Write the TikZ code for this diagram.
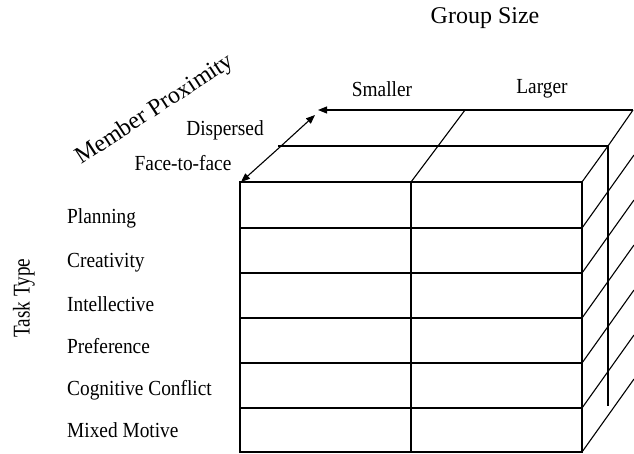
\documentclass[tikz,border=0pt]{standalone}
\usepackage{fontspec}
\setmainfont{Liberation Serif}
\newfontfamily\narrowserif{Liberation Serif}[FakeStretch=0.9]
\newfontfamily\tallserif{Liberation Serif}[FakeStretch=0.8]
\usetikzlibrary{arrows.meta}

\tikzset{
    edge/.style={line width=1.1pt},
    lbl/.style={font=\narrowserif\fontsize{21.5}{21.5}\selectfont, inner sep=0pt},
    title/.style={font=\fontsize{24}{24}\selectfont, inner sep=0pt},
    tip/.style={-{Triangle[length=9pt,width=7pt]}}
}

\begin{document}
\begin{tikzpicture}[x=1pt, y=-1pt]
        \useasboundingbox (0, 0) rectangle (634, 453);

        % Front face
        \draw[edge] (240, 182) rectangle (582, 452);
        \draw[edge] (411, 182) -- (411, 452);
        \foreach \y in {228, 273, 318, 363, 408}
            \draw[edge] (240, \y) -- (582, \y);

        % Top face
        \draw[edge] (278, 146) -- (608, 146);
        \draw[edge] (411, 182) -- (438, 146) -- (465, 110);
        \draw[edge] (582, 182) -- (608, 146) -- (633, 110);
        \draw[edge, tip] (633, 110) -- (318, 110);
        \draw[edge, tip] (280, 147) -- (241, 182);
        \draw[edge, tip] (280, 147) -- (315, 115);

        % Side face
        \draw[edge] (608, 146) -- (608, 406);
        \foreach \y in {228, 273, 318, 363, 408, 452}
            \draw[edge] (582, \y) -- (634, \y - 73);

        % Group size
        \node[title] (groupsize) at (485, 18) {Group Size};
        \node[lbl] (smaller) at (382, 89) {Smaller};
        \node[lbl] (larger) at (542, 89) {Larger};

        % Member proximity
        \node[title, rotate=33] (proximity) at (155, 110) {Member Proximity};
        \node[lbl] (dispersed) at (225, 130) {Dispersed};
        \node[lbl] (facetoface) at (183, 163) {Face-to-face};

        % Task type
        \node[title, font=\tallserif\fontsize{24}{24}\selectfont, rotate=90] (tasktype) at (24, 298) {Task Type};
        \node[lbl, anchor=base west] (planning) at (67, 223) {Planning};
        \node[lbl, anchor=base west] (creativity) at (67, 267) {Creativity};
        \node[lbl, anchor=base west] (intellective) at (67, 311) {Intellective};
        \node[lbl, anchor=base west] (preference) at (67, 353) {Preference};
        \node[lbl, anchor=base west] (conflict) at (67, 395) {Cognitive Conflict};
        \node[lbl, anchor=base west] (mixed) at (67, 437) {Mixed Motive};
    \end{tikzpicture}
\end{document}
